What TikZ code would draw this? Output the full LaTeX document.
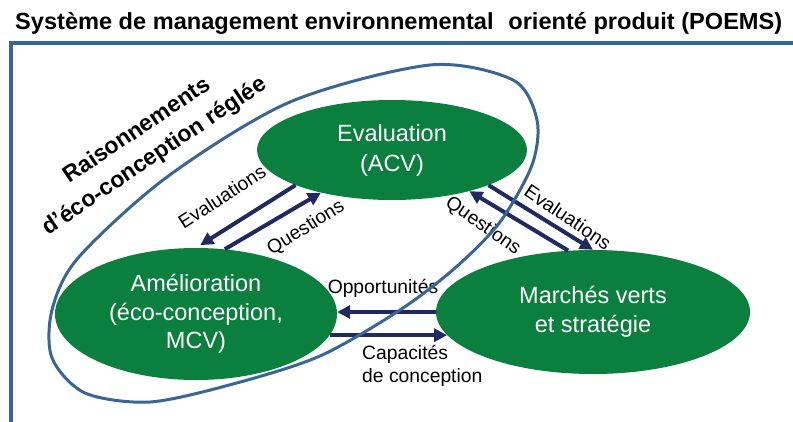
\documentclass[tikz,border=0pt]{standalone}
\usepackage{fontspec}
\setmainfont{Liberation Sans}
\usepackage{graphicx}
\usetikzlibrary{shapes.geometric}
\usetikzlibrary{arrows.meta}

\definecolor{ecogreen}{HTML}{0B7F3E}
\definecolor{arrownavy}{HTML}{1F2A63}
\definecolor{frameblue}{HTML}{3A6597}

\begin{document}
\begin{tikzpicture}[x=1pt, y=-1pt,
    bubble/.style={ellipse, fill=ecogreen, draw=none, text=white, inner sep=0pt, align=center, font=\fontsize{23.5}{28.5}\selectfont},
    flow/.style={draw=arrownavy, line width=4pt, -{Triangle[length=13pt,width=13pt]}},
    flowlabel/.style={font=\fontsize{19.3}{23}\selectfont, inner sep=0pt, align=left},
]

    \useasboundingbox (0,0) rectangle (793,421);

    % Title and frame
    \node[anchor=base west, inner sep=0pt, font=\bfseries\fontsize{23.3}{28}\selectfont] (title) at (15,29.3)
        {\resizebox{767pt}{\height}{Système de management environnemental\hspace{0.35em} orienté produit (POEMS)}};
    \draw[frameblue, line width=4pt] (11.3,423) -- (11.3,43) -- (795,43);

    % Draw ellipses
    \node[bubble, minimum width=270pt, minimum height=100pt] (eval) at (392,150) {Evaluation\\[1.5pt](ACV)};
    \node[bubble, minimum width=282pt, minimum height=132pt] (amel) at (196,314) {Amélioration\\(éco-conception,\\MCV)};
    \node[bubble, minimum width=314pt, minimum height=124pt] (marche) at (593,312) {Marchés verts\\et stratégie};

    % Draw flows
    \draw[flow, shorten >=5pt] (eval.200) -- (amel.north);
    \draw[flow] (amel.66) -- (eval.211);
    \draw[flow] (eval.340) -- (marche.north);
    \draw[flow] (marche.112) -- (eval.332);
    \draw[flow] (marche.west) -- (marche.west -| amel.east);
    \draw[flow] (amel.351) -- (amel.351 -| marche.189);

    \node[flowlabel, rotate=33] (evalleft) at (222,197) {Evaluations};
    \node[flowlabel, rotate=32] (questleft) at (306,228) {Questions};
    \node[flowlabel, rotate=-34] (evalright) at (568,217) {Evaluations};
    \node[flowlabel, rotate=-35] (questright) at (483,226) {Questions};
    \node[flowlabel] (opport) at (383,288) {Opportunités};
    \node[flowlabel, anchor=west] (capac) at (362,366) {Capacités\\de conception};

    % Reasoning loop
    \draw[frameblue, line width=3pt] plot[smooth cycle] coordinates {
        (150,402) (85,393) (52,358) (52,310) (78,258) (167,177) (290,102) (430,65)
        (513,80) (537,120) (532,165) (500,222) (455,268) (400,310) (320,356) (233,384)};
    \node[rotate=34, align=center, inner sep=0pt, font=\bfseries\fontsize{23}{31}\selectfont] (reason) at (146,144)
        {Raisonnements\\d’éco-conception réglée};

\end{tikzpicture}
\end{document}
